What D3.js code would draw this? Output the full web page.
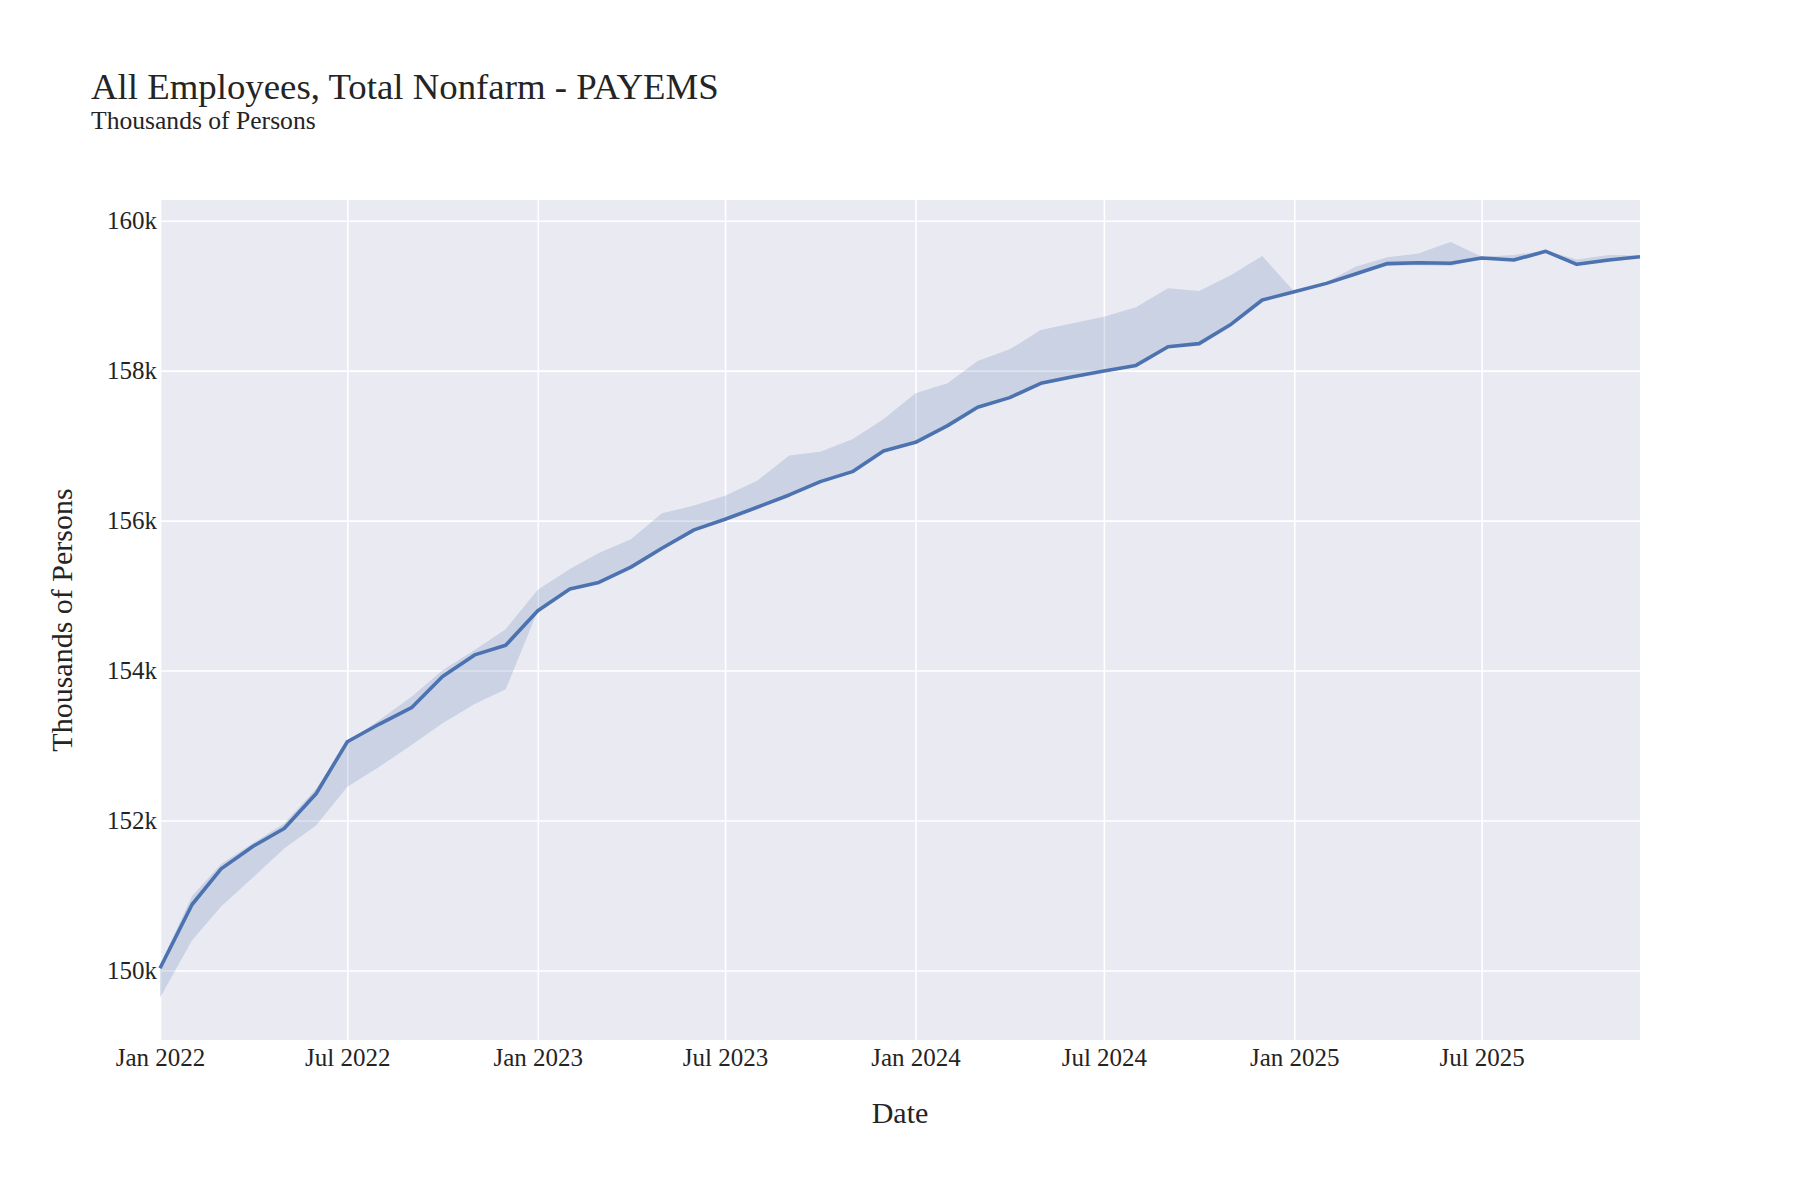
<!DOCTYPE html>
<html>
<head>
<meta charset="utf-8">
<script src="https://cdn.jsdelivr.net/npm/d3@7"></script>
<style>
  body { margin: 0; background: #fff; }
  text { font-family: "Liberation Serif", "Times New Roman", serif; fill: rgb(36,36,36); }
</style>
</head>
<body>
<svg id="chart" width="1800" height="1200"></svg>
<script>
// monthly observations, Jan 2022 .. Dec 2025
const months = [
  "2022-01", "2022-02", "2022-03", "2022-04", "2022-05", "2022-06",
  "2022-07", "2022-08", "2022-09", "2022-10", "2022-11", "2022-12",
  "2023-01", "2023-02", "2023-03", "2023-04", "2023-05", "2023-06",
  "2023-07", "2023-08", "2023-09", "2023-10", "2023-11", "2023-12",
  "2024-01", "2024-02", "2024-03", "2024-04", "2024-05", "2024-06",
  "2024-07", "2024-08", "2024-09", "2024-10", "2024-11", "2024-12",
  "2025-01", "2025-02", "2025-03", "2025-04", "2025-05", "2025-06",
  "2025-07", "2025-08", "2025-09", "2025-10", "2025-11", "2025-12"
];

const payems = [
  150030, 150880, 151355, 151657, 151893, 152361,
  153051, 153287, 153505, 153920, 154209, 154338,
  154797, 155087, 155175, 155380, 155631, 155876,
  156018, 156178, 156342, 156520, 156653, 156929,
  157044, 157267, 157511, 157640, 157831, 157920,
  157995, 158070, 158318, 158360, 158620, 158942,
  159053, 159164, 159290, 159428, 159440, 159432,
  159502, 159475, 159591, 159418, 159475, 159520
];

const bandUpper = [
  150070, 150995, 151420, 151700, 151960, 152427,
  153051, 153340, 153652, 154005, 154276, 154552,
  155078, 155354, 155568, 155751, 156098, 156200,
  156333, 156533, 156867, 156920, 157084, 157351,
  157698, 157831, 158129, 158284, 158542, 158631,
  158720, 158844, 159098, 159062, 159276, 159529,
  159053, 159180, 159387, 159511, 159564, 159716,
  159520, 159542, 159600, 159484, 159542, 159535
];

const bandLower = [
  149637, 150403, 150855, 151243, 151626, 151937,
  152450, 152717, 153006, 153296, 153554, 153750,
  154797, 155087, 155175, 155380, 155631, 155876,
  156018, 156178, 156342, 156520, 156653, 156929,
  157044, 157267, 157511, 157640, 157831, 157920,
  157995, 158070, 158318, 158360, 158620, 158942,
  159053, 159164, 159290, 159400, 159405, 159395,
  159502, 159470, 159591, 159418, 159475, 159520
];

const yTicks = [150000, 152000, 154000, 156000, 158000, 160000];
const xTicks = ["2022-01", "2022-07", "2023-01", "2023-07", "2024-01", "2024-07", "2025-01", "2025-07"];

const titleText = "All Employees, Total Nonfarm - PAYEMS";
const subtitleText = "Thousands of Persons";
const xTitle = "Date";
const yTitle = "Thousands of Persons";

const parseMonth = d3.timeParse("%Y-%m");
const data = months.map((m, i) => ({
  date: parseMonth(m),
  value: payems[i],
  hi: bandUpper[i],
  lo: bandLower[i]
}));

const svg = d3.select("#chart");
const plot = { left: 160, right: 1640, top: 200, bottom: 1040 };

const x = d3.scaleTime()
  .domain(d3.extent(data, d => d.date))
  .range([plot.left, plot.right]);

const y = d3.scaleLinear()
  .domain([149073, 160276])
  .range([plot.bottom, plot.top]);

// background
svg.append("rect")
  .attr("x", plot.left)
  .attr("y", plot.top)
  .attr("width", plot.right - plot.left)
  .attr("height", plot.bottom - plot.top)
  .attr("fill", "rgb(234,234,242)");

// grid
svg.append("g")
  .attr("transform", `translate(0,${plot.bottom})`)
  .call(d3.axisBottom(x).tickValues(xTicks.map(parseMonth)).tickSize(-(plot.bottom - plot.top)).tickFormat(""))
  .call(g => g.select(".domain").remove())
  .call(g => g.selectAll("line").attr("stroke", "#fff").attr("stroke-width", 1.6));

svg.append("g")
  .attr("transform", `translate(${plot.left},0)`)
  .call(d3.axisLeft(y).tickValues(yTicks).tickSize(-(plot.right - plot.left)).tickFormat(""))
  .call(g => g.select(".domain").remove())
  .call(g => g.selectAll("line").attr("stroke", "#fff").attr("stroke-width", 1.6));

// band
const area = d3.area()
  .x(d => x(d.date))
  .y0(d => y(d.lo))
  .y1(d => y(d.hi));

svg.append("path")
  .datum(data)
  .attr("d", area)
  .attr("fill", "rgba(76,114,176,0.2)");

// line
const line = d3.line()
  .x(d => x(d.date))
  .y(d => y(d.value));

svg.append("path")
  .datum(data)
  .attr("d", line)
  .attr("fill", "none")
  .attr("stroke", "rgb(76,114,176)")
  .attr("stroke-width", 3.6)
  .attr("stroke-linejoin", "round");

// tick labels
const xAxis = svg.append("g")
  .attr("transform", `translate(0,${plot.bottom})`)
  .call(d3.axisBottom(x).tickValues(xTicks.map(parseMonth)).tickSize(0).tickPadding(0).tickFormat(d3.timeFormat("%b %Y")));
xAxis.select(".domain").remove();
xAxis.selectAll("text")
  .attr("y", 26)
  .attr("dy", 0)
  .style("font-size", "25px")
  .style("font-family", "Liberation Serif")
  .attr("fill", "rgb(36,36,36)");

const yAxis = svg.append("g")
  .attr("transform", `translate(${plot.left},0)`)
  .call(d3.axisLeft(y).tickValues(yTicks).tickSize(0).tickPadding(3).tickFormat(d => d / 1000 + "k"));
yAxis.select(".domain").remove();
yAxis.selectAll("text")
  .attr("dy", "0.33em")
  .style("font-size", "25px")
  .style("font-family", "Liberation Serif")
  .attr("fill", "rgb(36,36,36)");

// titles
svg.append("text")
  .attr("x", 91)
  .attr("y", 99)
  .style("font-size", "36.8px")
  .text(titleText);

svg.append("text")
  .attr("x", 91)
  .attr("y", 129)
  .style("font-size", "25.6px")
  .text(subtitleText);

svg.append("text")
  .attr("x", (plot.left + plot.right) / 2)
  .attr("y", 1123)
  .attr("text-anchor", "middle")
  .style("font-size", "30px")
  .text(xTitle);

svg.append("text")
  .attr("transform", `translate(72,${(plot.top + plot.bottom) / 2}) rotate(-90)`)
  .attr("text-anchor", "middle")
  .style("font-size", "30px")
  .text(yTitle);
</script>
</body>
</html>
